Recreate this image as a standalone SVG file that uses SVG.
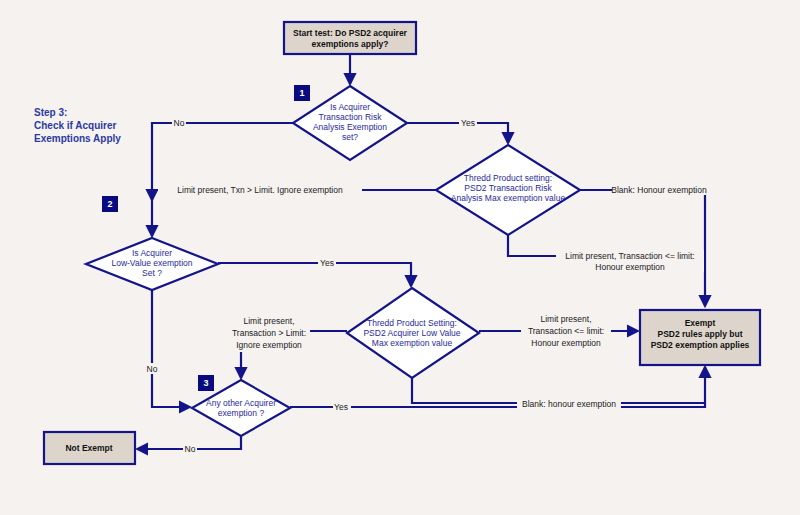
<svg xmlns="http://www.w3.org/2000/svg" width="800" height="515" viewBox="0 0 800 515">
<defs>
<marker id="ah" markerWidth="6" markerHeight="6" refX="5" refY="3" orient="auto" markerUnits="strokeWidth"><path d="M0,0 L6,3 L0,6 z" fill="#14148a"/></marker>
<style>
.ln{fill:none;stroke:#14148a;stroke-width:2.2}
.dm{fill:#fff;stroke:#14148a;stroke-width:2.2}
.bx{fill:#ddd5cc;stroke:#14148a;stroke-width:2.2}
.bd{fill:#0a0a80}
.bt{font-family:"Liberation Sans",Arial,sans-serif;font-size:9px;font-weight:bold;fill:#fff;text-anchor:middle}
.dt{font-family:"Liberation Sans",Arial,sans-serif;font-size:8.5px;fill:#2a2a9a;text-anchor:middle}
.xt{font-family:"Liberation Sans",Arial,sans-serif;font-size:8.5px;font-weight:bold;fill:#111;text-anchor:middle}
.lt{font-family:"Liberation Sans",Arial,sans-serif;font-size:8.5px;fill:#222;text-anchor:middle}
.lb{fill:#f5f2f0}
</style>
</defs>
<rect width="800" height="515" fill="#f5f2f0"/>
<g font-family="Liberation Sans,Arial,sans-serif" font-size="10" font-weight="bold" fill="#2a3aa0">
<text x="34" y="116">Step 3:</text><text x="34" y="129">Check if Acquirer</text><text x="34" y="142">Exemptions Apply</text>
</g>
<g id="connectors">
<path class="ln" d="M350,54 V84" marker-end="url(#ah)"/>
<path class="ln" d="M293,123 H152 V236" marker-end="url(#ah)"/>
<path class="ln" d="M152,190 V200" marker-end="url(#ah)"/>
<path class="ln" d="M407,123 H508 V143" marker-end="url(#ah)"/>
<path class="ln" d="M436,190 H152"/>
<path class="ln" d="M580,190 H705 V306" marker-end="url(#ah)"/>
<path class="ln" d="M508,235 V256 H705"/>
<path class="ln" d="M218,263 H411 V286" marker-end="url(#ah)"/>
<path class="ln" d="M347,331 H305"/>
<path class="ln" d="M241,352 V378" marker-end="url(#ah)"/>
<path class="ln" d="M479,331 H638" marker-end="url(#ah)"/>
<path class="ln" d="M412,378 V403 H705"/>
<path class="ln" d="M290,407 H705 V367" marker-end="url(#ah)"/>
<path class="ln" d="M152,290 V407 H190" marker-end="url(#ah)"/>
<path class="ln" d="M241,436 V449 H137" marker-end="url(#ah)"/>
<rect class="lb" x="172" y="117" width="14" height="11"/><text class="lt" x="179" y="126">No</text>
<rect class="lb" x="459" y="117" width="18" height="11"/><text class="lt" x="468" y="126">Yes</text>
<rect class="lb" x="158" y="184" width="204" height="11"/><text class="lt" x="260" y="193">Limit present, Txn &gt; Limit. Ignore exemption</text>
<rect class="lb" x="612" y="184" width="94" height="11"/><text class="lt" x="659" y="193">Blank: Honour exemption</text>
<rect class="lb" x="556" y="250" width="148" height="22"/><text class="lt" x="630" y="259">Limit present, Transaction &lt;= limit:</text><text class="lt" x="630" y="270">Honour exemption</text>
<rect class="lb" x="318" y="257" width="18" height="11"/><text class="lt" x="327" y="266">Yes</text>
<rect class="lb" x="228" y="314" width="82" height="37"/><text class="lt" x="269" y="324">Limit present,</text><text class="lt" x="269" y="336">Transaction &gt; Limit:</text><text class="lt" x="269" y="348">Ignore exemption</text>
<rect class="lb" x="521" y="312" width="90" height="37"/><text class="lt" x="566" y="322">Limit present,</text><text class="lt" x="566" y="334">Transaction &lt;= limit:</text><text class="lt" x="566" y="346">Honour exemption</text>
<rect class="lb" x="517" y="398" width="104" height="11"/><text class="lt" x="569" y="407">Blank: honour exemption</text>
<rect class="lb" x="333" y="401" width="18" height="11"/><text class="lt" x="341" y="410">Yes</text>
<rect class="lb" x="145" y="363" width="14" height="11"/><text class="lt" x="152" y="372">No</text>
<rect class="lb" x="183" y="443" width="14" height="11"/><text class="lt" x="190" y="452">No</text>
</g>
<g id="start"><rect class="bx" x="284" y="22" width="132" height="32"/><text class="xt" x="350" y="36">Start test: Do PSD2 acquirer</text><text class="xt" x="350" y="47">exemptions apply?</text></g>
<g id="d1"><path class="dm" d="M350,86 L407,123 L350,160 L293,123 z"/><text class="dt" x="350" y="110">Is Acquirer</text><text class="dt" x="350" y="120">Transaction Risk</text><text class="dt" x="350" y="130">Analysis Exemption</text><text class="dt" x="350" y="140">set?</text></g>
<g id="b1"><rect class="bd" x="294" y="85" width="16" height="16"/><text class="bt" x="302" y="96">1</text></g>
<g id="dT"><path class="dm" d="M508,145 L580,190 L508,235 L436,190 z"/><text class="dt" x="508" y="181">Thredd Product setting:</text><text class="dt" x="508" y="191">PSD2 Transaction Risk</text><text class="dt" x="508" y="201">Analysis Max exemption value</text></g>
<g id="b2"><rect class="bd" x="102" y="196" width="16" height="16"/><text class="bt" x="110" y="207">2</text></g>
<g id="d2"><path class="dm" d="M152,238 L218,264 L152,290 L86,264 z"/><text class="dt" x="152" y="256">Is Acquirer</text><text class="dt" x="152" y="266">Low-Value exemption</text><text class="dt" x="152" y="276">Set ?</text></g>
<g id="dP"><path class="dm" d="M412,288 L479,333 L412,378 L347,333 z"/><text class="dt" x="412" y="326">Thredd Product Setting:</text><text class="dt" x="412" y="336">PSD2 Acquirer Low Value</text><text class="dt" x="412" y="346">Max exemption value</text></g>
<g id="exempt"><rect class="bx" x="640" y="310" width="120" height="55"/><text class="xt" x="700" y="326">Exempt</text><text class="xt" x="700" y="337">PSD2 rules apply but</text><text class="xt" x="700" y="348">PSD2 exemption applies</text></g>
<g id="b3"><rect class="bd" x="198" y="375" width="16" height="16"/><text class="bt" x="206" y="386">3</text></g>
<g id="d3"><path class="dm" d="M241,380 L290,408 L241,436 L192,408 z"/><text class="dt" x="241" y="406">Any other Acquirer</text><text class="dt" x="241" y="416">exemption ?</text></g>
<g id="notexempt"><rect class="bx" x="44" y="432" width="91" height="32"/><text class="xt" x="89" y="451">Not Exempt</text></g>
</svg>
